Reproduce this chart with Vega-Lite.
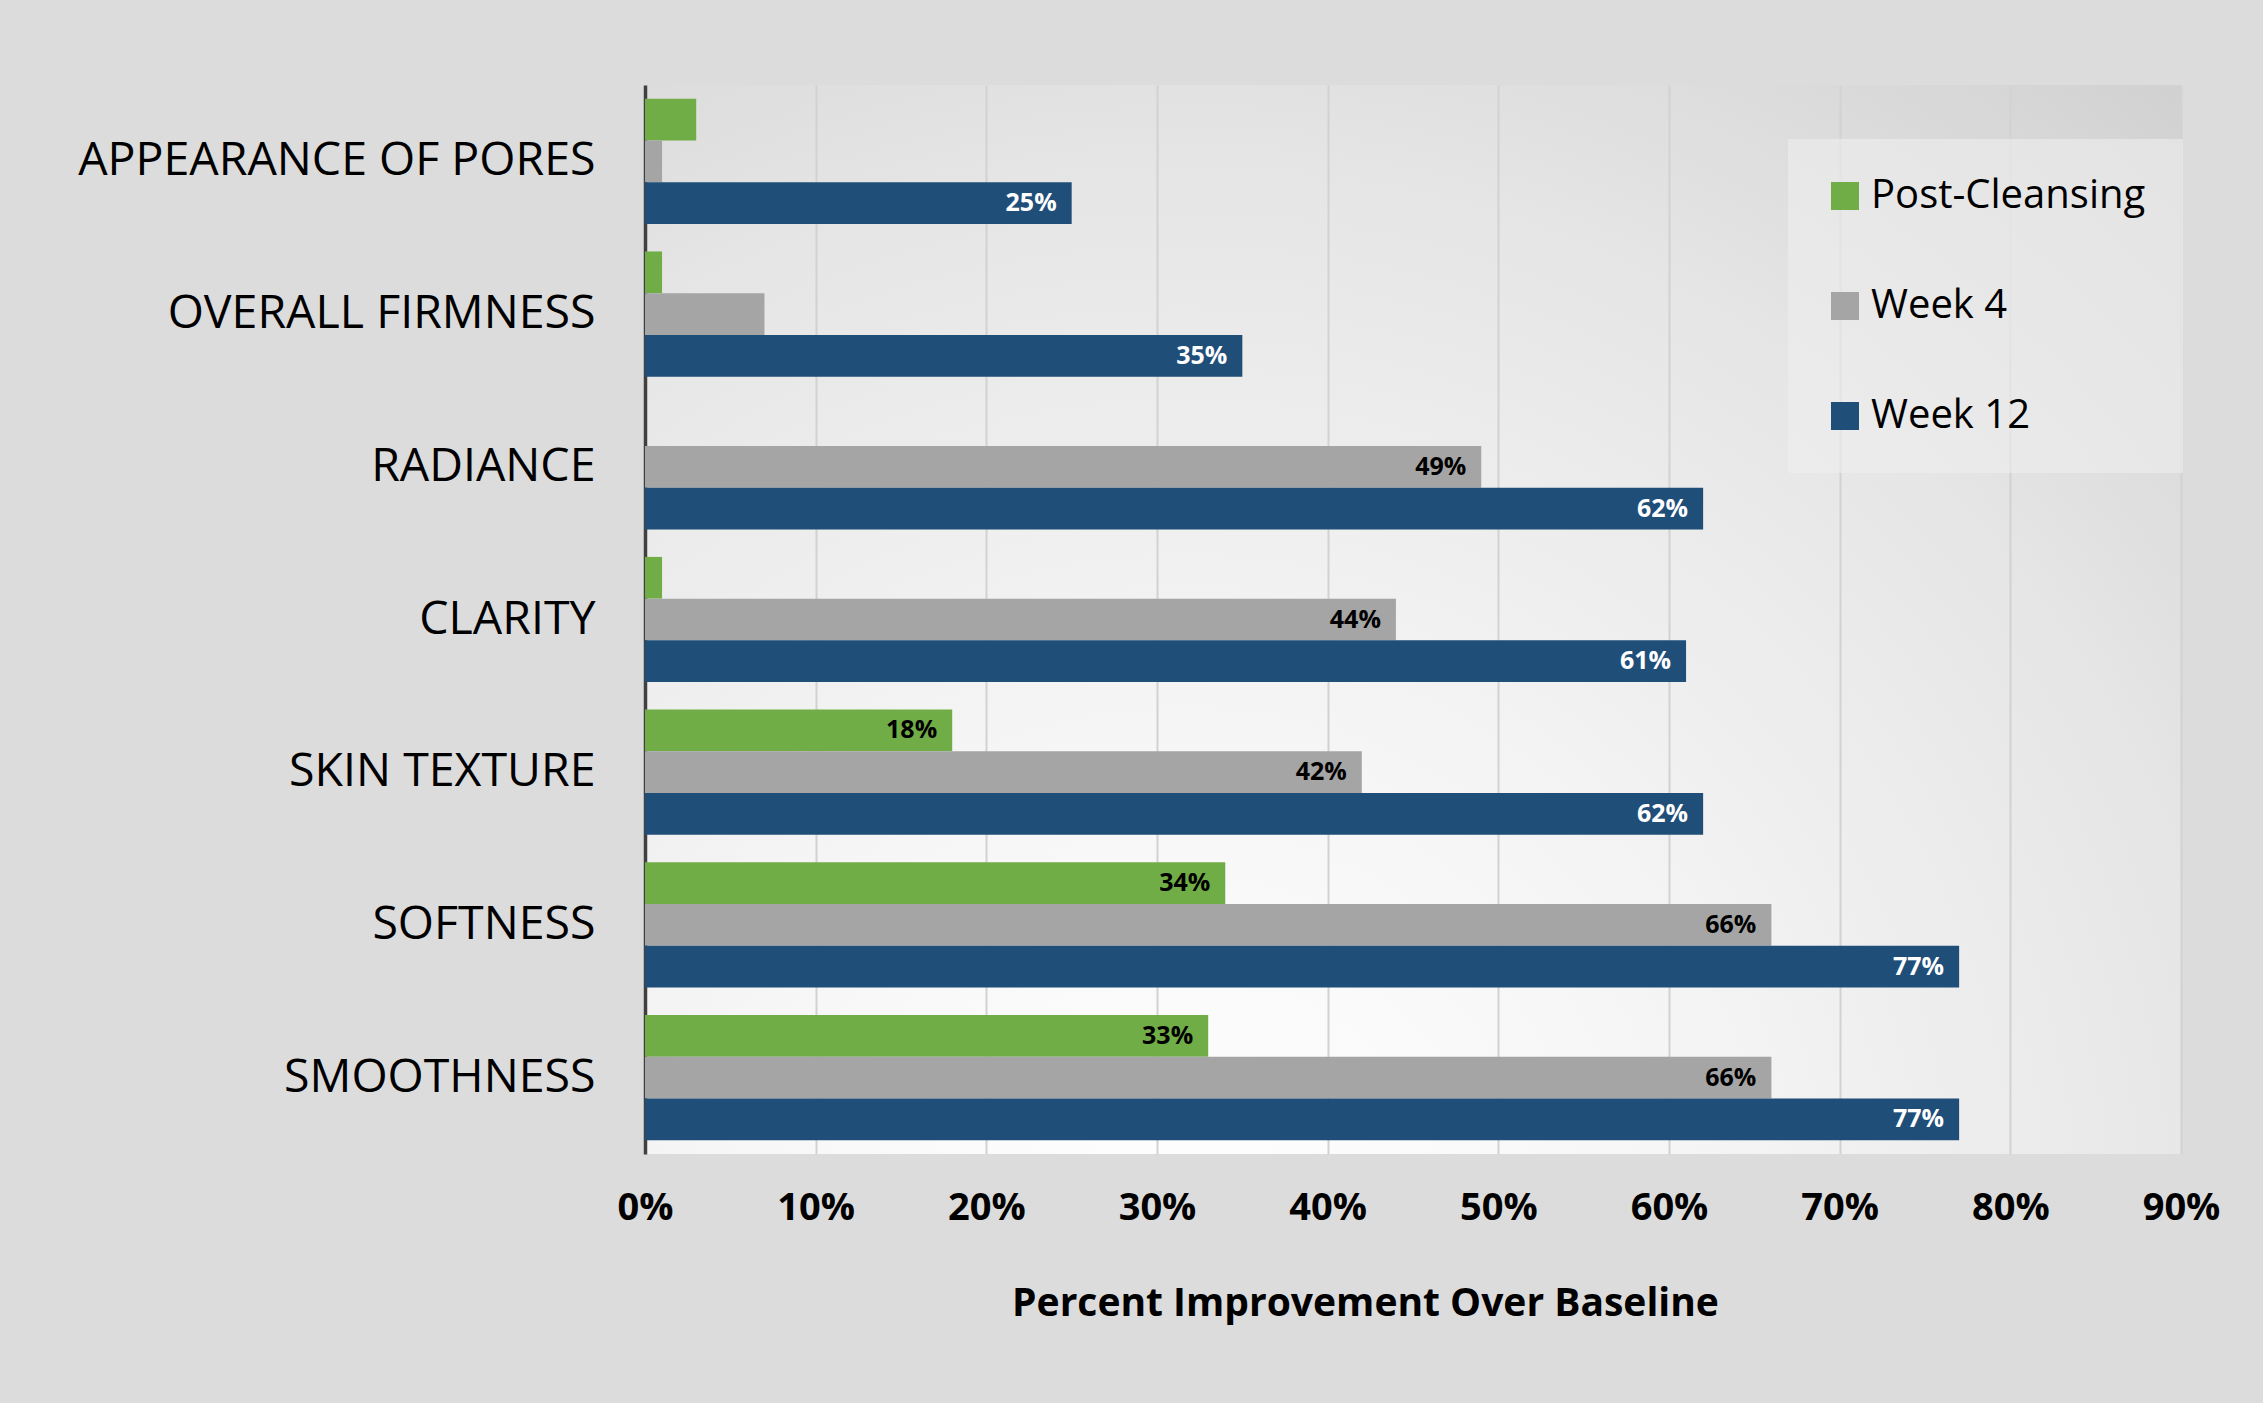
{
  "$schema": "https://vega.github.io/schema/vega-lite/v6.json",
  "autosize": {"type": "none"},
  "padding": {"left": 645, "top": 85, "right": 82, "bottom": 249},
  "width": 1536,
  "height": 1069,
  "background": "#dcdcdc",
  "config": {
    "font": "Open Sans",
    "view": {
      "stroke": null,
      "fill": {
        "gradient": "radial",
        "x1": 0.35, "y1": 0.9, "r1": 0,
        "x2": 0.35, "y2": 0.9, "r2": 1.05,
        "stops": [
          {"offset": 0, "color": "#ffffff"},
          {"offset": 0.3, "color": "#f6f6f6"},
          {"offset": 0.65, "color": "#e6e6e6"},
          {"offset": 1, "color": "#cdcdcd"}
        ]
      }
    }
  },
  "data": {
    "values": [
      {"category": "APPEARANCE OF PORES", "series": "Post-Cleansing", "value": 0.03},
      {"category": "APPEARANCE OF PORES", "series": "Week 4", "value": 0.01},
      {"category": "APPEARANCE OF PORES", "series": "Week 12", "value": 0.25},
      {"category": "OVERALL FIRMNESS", "series": "Post-Cleansing", "value": 0.01},
      {"category": "OVERALL FIRMNESS", "series": "Week 4", "value": 0.07},
      {"category": "OVERALL FIRMNESS", "series": "Week 12", "value": 0.35},
      {"category": "RADIANCE", "series": "Post-Cleansing", "value": 0},
      {"category": "RADIANCE", "series": "Week 4", "value": 0.49},
      {"category": "RADIANCE", "series": "Week 12", "value": 0.62},
      {"category": "CLARITY", "series": "Post-Cleansing", "value": 0.01},
      {"category": "CLARITY", "series": "Week 4", "value": 0.44},
      {"category": "CLARITY", "series": "Week 12", "value": 0.61},
      {"category": "SKIN TEXTURE", "series": "Post-Cleansing", "value": 0.18},
      {"category": "SKIN TEXTURE", "series": "Week 4", "value": 0.42},
      {"category": "SKIN TEXTURE", "series": "Week 12", "value": 0.62},
      {"category": "SOFTNESS", "series": "Post-Cleansing", "value": 0.34},
      {"category": "SOFTNESS", "series": "Week 4", "value": 0.66},
      {"category": "SOFTNESS", "series": "Week 12", "value": 0.77},
      {"category": "SMOOTHNESS", "series": "Post-Cleansing", "value": 0.33},
      {"category": "SMOOTHNESS", "series": "Week 4", "value": 0.66},
      {"category": "SMOOTHNESS", "series": "Week 12", "value": 0.77}
    ]
  },
  "encoding": {
    "y": {
      "field": "category",
      "type": "nominal",
      "sort": ["APPEARANCE OF PORES", "OVERALL FIRMNESS", "RADIANCE", "CLARITY", "SKIN TEXTURE", "SOFTNESS", "SMOOTHNESS"],
      "scale": {"paddingInner": 0.18, "paddingOuter": 0.09},
      "axis": {
        "title": null,
        "domain": true,
        "domainColor": "#404040",
        "domainWidth": 3.5,
        "ticks": false,
        "grid": false,
        "labelFontSize": 46.5,
        "labelColor": "#000000",
        "labelPadding": 50,
        "labelLimit": 700
      }
    },
    "yOffset": {
      "field": "series",
      "type": "nominal",
      "sort": ["Post-Cleansing", "Week 4", "Week 12"],
      "scale": {"domain": ["Post-Cleansing", "Week 4", "Week 12"], "paddingInner": 0, "paddingOuter": 0}
    },
    "x": {
      "field": "value",
      "type": "quantitative",
      "scale": {"domain": [0, 0.9], "nice": false},
      "axis": {
        "values": [0, 0.1, 0.2, 0.3, 0.4, 0.5, 0.6, 0.7, 0.8, 0.9],
        "format": ".0%",
        "domain": false,
        "ticks": false,
        "grid": true,
        "gridColor": "#d2d2d2",
        "gridWidth": 2,
        "labelFontSize": 38,
        "labelFontWeight": "bold",
        "labelColor": "#000000",
        "labelBaseline": "middle",
        "labelPadding": 54,
        "labelFlush": false,
        "title": "Percent Improvement Over Baseline",
        "titleFontSize": 39,
        "titleFontWeight": "bold",
        "titleColor": "#000000",
        "titleBaseline": "middle",
        "titleAlign": "center",
        "titleX": 720,
        "titleY": 149
      }
    }
  },
  "layer": [
    {
      "mark": {"type": "bar"},
      "encoding": {
        "color": {
          "field": "series",
          "type": "nominal",
          "scale": {"domain": ["Post-Cleansing", "Week 4", "Week 12"], "range": ["#70ad47", "#a5a5a5", "#1f4e79"]},
          "legend": {
            "title": null,
            "orient": "none",
            "legendX": 1143,
            "legendY": 54,
            "direction": "vertical",
            "padding": 37,
            "fillColor": "rgba(238,238,238,0.6)",
            "strokeColor": null,
            "symbolType": "square",
            "symbolSize": 784,
            "symbolStrokeWidth": 0,
            "labelFontSize": 40,
            "labelColor": "#000000",
            "labelOffset": 6,
            "rowPadding": 70,
            "labelLimit": 400
          }
        }
      }
    },
    {
      "transform": [{"filter": "datum.value >= 0.1"}],
      "mark": {"type": "text", "align": "right", "baseline": "middle", "dx": -15, "fontSize": 25, "fontWeight": "bold"},
      "encoding": {
        "text": {"field": "value", "type": "quantitative", "format": ".0%"},
        "color": {
          "condition": {"test": "datum.series === 'Week 12'", "value": "#ffffff"},
          "value": "#000000"
        }
      }
    }
  ]
}
